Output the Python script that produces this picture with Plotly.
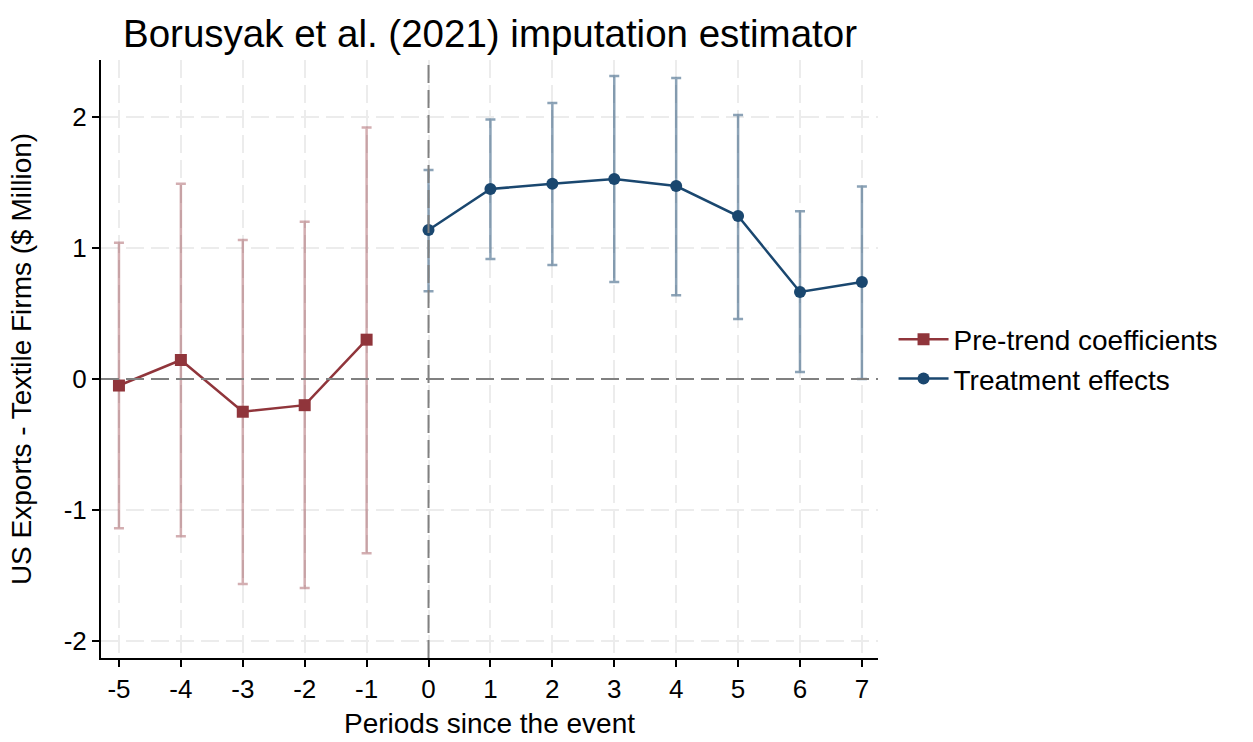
import plotly.graph_objects as go

# Event-study estimates (imputation estimator)
pre_periods = [-5, -4, -3, -2, -1]
pre_coef = [-0.05, 0.145, -0.25, -0.20, 0.30]
pre_upper = [1.04, 1.49, 1.06, 1.20, 1.92]
pre_lower = [-1.14, -1.20, -1.565, -1.595, -1.33]

post_periods = [0, 1, 2, 3, 4, 5, 6, 7]
post_coef = [1.137, 1.45, 1.49, 1.527, 1.473, 1.244, 0.664, 0.74]
post_upper = [1.595, 1.98, 2.107, 2.313, 2.298, 2.015, 1.28, 1.47]
post_lower = [0.67, 0.916, 0.87, 0.74, 0.64, 0.458, 0.053, 0.0]

x_ticks = list(range(-5, 8))
y_ticks = [-2, -1, 0, 1, 2]

RED = "#90353B"
BLUE = "#1A476F"
FONT = "Arial, Liberation Sans, sans-serif"
DASH = "18px,7px"


def err(center, upper, lower):
    plus = [u - c for u, c in zip(upper, center)]
    minus = [c - l for c, l in zip(center, lower)]
    return plus, minus


fig = go.Figure()

pp, pm = err(pre_coef, pre_upper, pre_lower)
fig.add_trace(go.Scatter(
    x=pre_periods, y=pre_coef, mode="lines+markers",
    name="Pre-trend coefficients",
    line=dict(color=RED, width=2.5),
    marker=dict(symbol="square", size=12, color=RED),
    error_y=dict(type="data", symmetric=False, array=pp, arrayminus=pm,
                 color="rgba(144,53,59,0.4)", thickness=2.5, width=5),
))

qp, qm = err(post_coef, post_upper, post_lower)
fig.add_trace(go.Scatter(
    x=post_periods, y=post_coef, mode="lines+markers",
    name="Treatment effects",
    line=dict(color=BLUE, width=2.5),
    marker=dict(symbol="circle", size=12, color=BLUE),
    error_y=dict(type="data", symmetric=False, array=qp, arrayminus=qm,
                 color="rgba(26,71,111,0.5)", thickness=2.5, width=5),
))

# Reference lines at zero
fig.add_shape(type="line", xref="paper", yref="y", x0=0, x1=1, y0=0, y1=0,
              line=dict(color="#808080", width=2, dash=DASH), layer="above")
fig.add_shape(type="line", xref="x", yref="paper", x0=0, x1=0, y0=0, y1=1,
              line=dict(color="#808080", width=2, dash=DASH), layer="above")

fig.update_layout(
    width=1253, height=742,
    margin=dict(l=101, r=375, t=60, b=84),
    paper_bgcolor="white", plot_bgcolor="white",
    font=dict(family=FONT, color="black"),
    title=dict(text="Borusyak et al. (2021) imputation estimator",
               x=(101 + 389) / 1253, xanchor="center", y=0.955, yanchor="middle",
               font=dict(size=38.5, family=FONT, color="black")),
    legend=dict(x=1.02, xanchor="left", y=0.5, yanchor="middle",
                font=dict(size=28, family=FONT), bgcolor="rgba(0,0,0,0)",
                tracegroupgap=0, itemwidth=50),
    showlegend=True,
)

fig.update_xaxes(
    range=[-5.29, 7.26], tickvals=x_ticks, ticktext=[str(v) for v in x_ticks],
    showline=True, linecolor="black", linewidth=2, mirror=False,
    ticks="outside", ticklen=7, tickwidth=1.5, tickcolor="black",
    tickfont=dict(size=26, family=FONT),
    showgrid=True, gridcolor="#ececec", gridwidth=2, griddash=DASH,
    zeroline=False, automargin=False,
    title=dict(text="Periods since the event", font=dict(size=28, family=FONT), standoff=10),
)
fig.update_yaxes(
    range=[-2.13, 2.435], tickvals=y_ticks, ticktext=[str(v) for v in y_ticks],
    showline=True, linecolor="black", linewidth=2, mirror=False,
    ticks="outside", ticklen=7, tickwidth=1.5, tickcolor="black",
    tickfont=dict(size=26, family=FONT),
    showgrid=True, gridcolor="#ececec", gridwidth=2, griddash=DASH,
    zeroline=False, automargin=False,
    title=dict(text="US Exports - Textile Firms ($ Million)",
               font=dict(size=28, family=FONT), standoff=24),
)

fig.write_html("out.html")
